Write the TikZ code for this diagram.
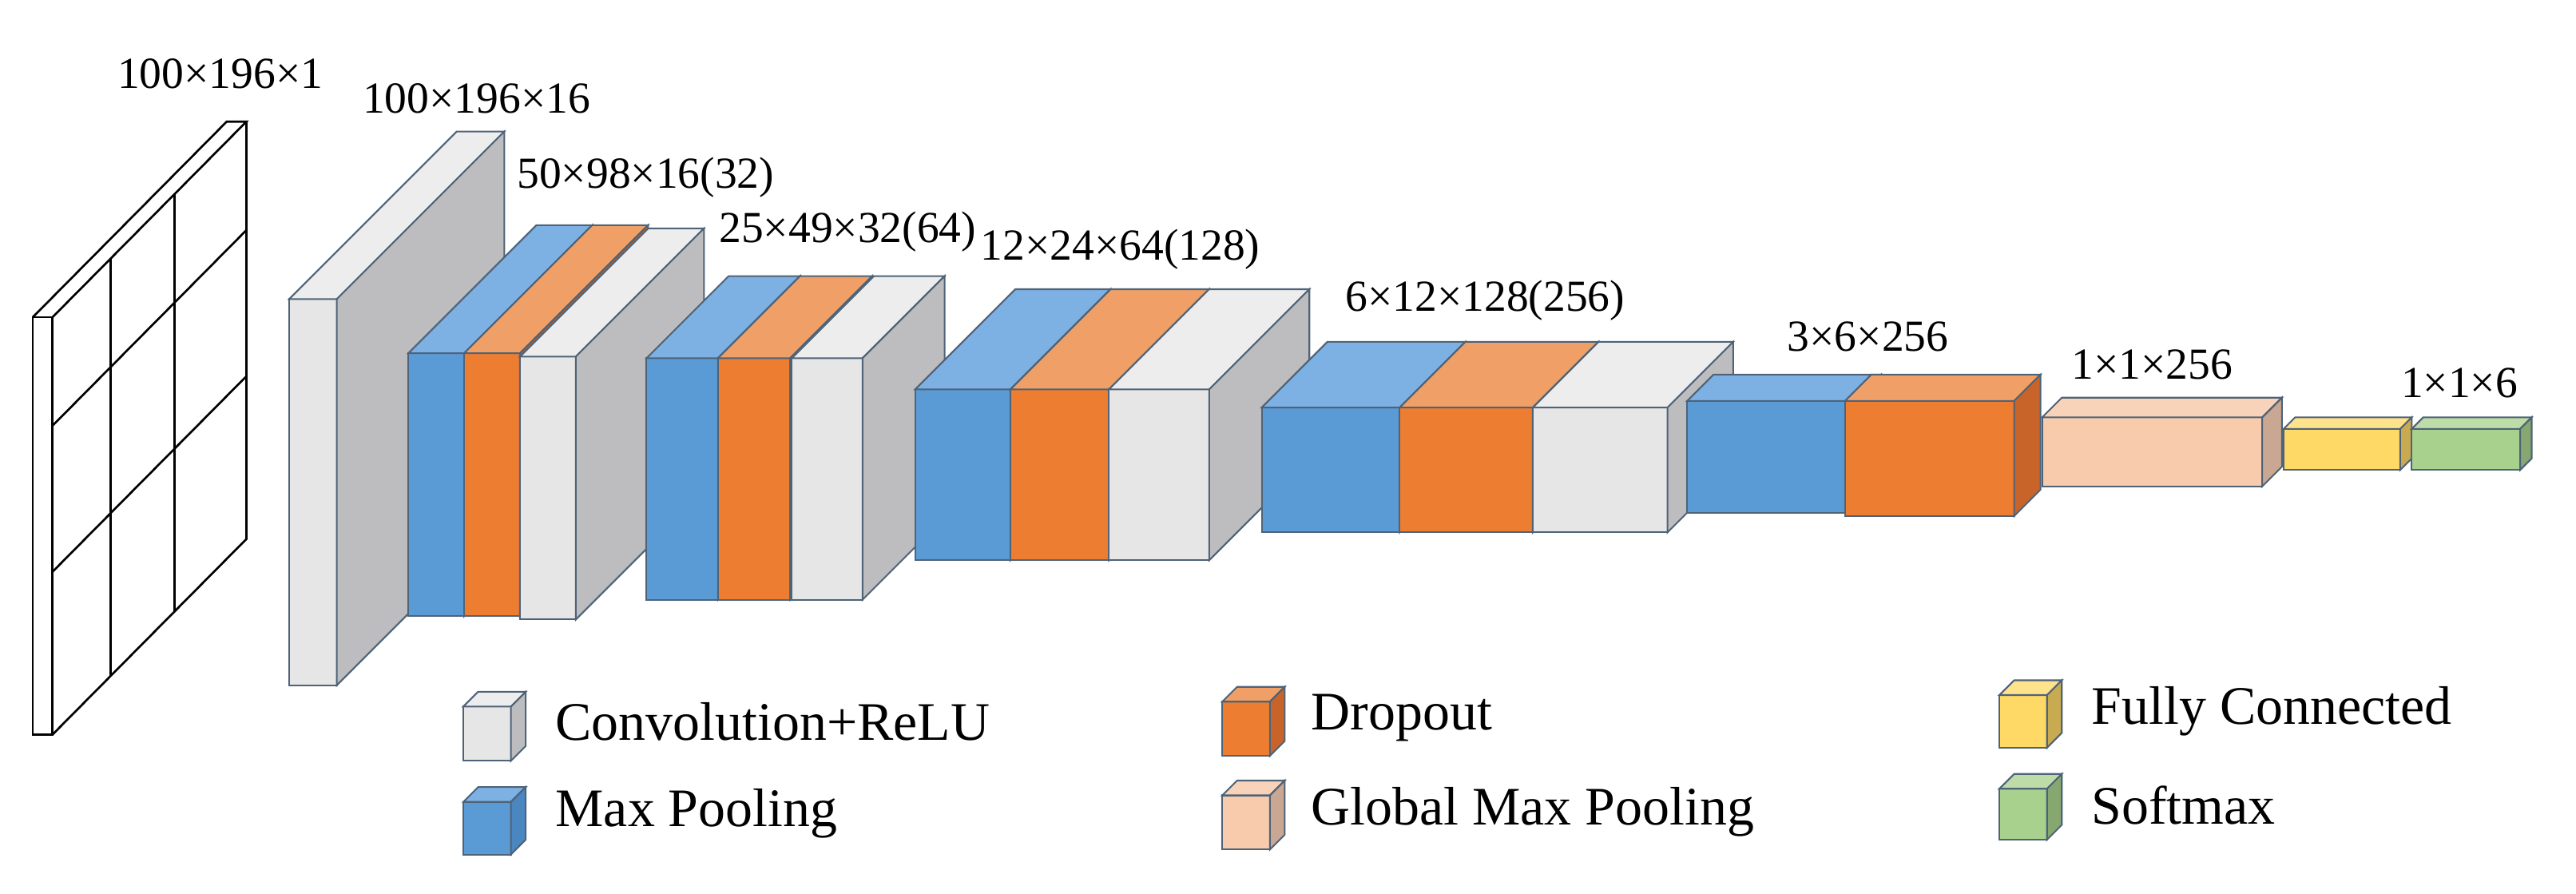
\documentclass[tikz,border=0pt]{standalone}
\usepackage{fontspec}
\setmainfont{Liberation Serif}
\begin{document}
\definecolor{bF}{HTML}{5B9BD5}\definecolor{bT}{HTML}{7DB1E3}\definecolor{bS}{HTML}{4A86C0}
\definecolor{oF}{HTML}{ED7D31}\definecolor{oT}{HTML}{F0A066}\definecolor{oS}{HTML}{C8642A}
\definecolor{gF}{HTML}{E7E6E6}\definecolor{gT}{HTML}{EDEDED}\definecolor{gS}{HTML}{BDBDBF}
\definecolor{pF}{HTML}{F8CBAD}\definecolor{pT}{HTML}{F8D3BA}\definecolor{pS}{HTML}{C9A792}
\definecolor{yF}{HTML}{FFD966}\definecolor{yT}{HTML}{FFE38C}\definecolor{yS}{HTML}{C8AA50}
\definecolor{sF}{HTML}{A9D18E}\definecolor{sT}{HTML}{BDDCA8}\definecolor{sS}{HTML}{86A870}
\definecolor{edge}{HTML}{4E6378}
\newcommand\cuboid[8]{%
 \fill[#6,draw=edge,line width=1pt] (#1,#2) rectangle ++(#3,#4);
 \fill[#7,draw=edge,line width=1pt] (#1,#2)--++(#5,-#5)--++(#3,0)--++(-#5,#5)--cycle;
 \fill[#8,draw=edge,line width=1pt] (#1+#3,#2)--++(#5,-#5)--++(0,#4)--++(-#5,#5)--cycle;}
\begin{tikzpicture}[x=1pt,y=-1pt,lab/.style={font=\fontsize{27}{27}\selectfont,inner sep=0pt},
 leg/.style={font=\fontsize{33}{33}\selectfont,inner sep=0pt,anchor=west}]
\useasboundingbox (0,0) rectangle (1568,543.6);
% input
\begin{scope}[line width=1.3pt]
\draw (20,193) rectangle (32,447);
\draw (20,193)--(138,74)--(150,74)--(32,193);
\draw (32,447)--(150,328)--(150,74);
\foreach \t in {0.3,0.63} \draw (32+118*\t,193-119*\t)--(32+118*\t,447-119*\t);
\foreach \f in {0.26,0.61} \draw (32,193+254*\f)--(150,74+254*\f);
\end{scope}
% conv1
\cuboid{176}{182}{29}{235}{102}{gF}{gT}{gS}
% block1
\cuboid{248.5}{215}{34}{160}{78}{bF}{bT}{bS}
\cuboid{282.5}{215}{34}{160}{78}{oF}{oT}{oS}
\cuboid{316.5}{217}{34}{160}{78}{gF}{gT}{gS}
% block2
\cuboid{393.5}{218}{43.5}{147}{50}{bF}{bT}{bS}
\cuboid{437}{218}{44}{147}{50}{oF}{oT}{oS}
\cuboid{482}{218}{43}{147}{50}{gF}{gT}{gS}
% block3
\cuboid{557}{237}{58}{104}{61}{bF}{bT}{bS}
\cuboid{615}{237}{60}{104}{61}{oF}{oT}{oS}
\cuboid{675}{237}{61}{104}{61}{gF}{gT}{gS}
% block4
\cuboid{768}{248}{84}{76}{40}{bF}{bT}{bS}
\cuboid{852}{248}{81}{76}{40}{oF}{oT}{oS}
\cuboid{933}{248}{82}{76}{40}{gF}{gT}{gS}
% block5
\cuboid{1027}{244}{102}{68}{16}{bF}{bT}{bS}
\cuboid{1123}{244}{103}{70}{16}{oF}{oT}{oS}
% gmp, fc, softmax
\cuboid{1243}{254}{134}{42}{12}{pF}{pT}{pS}
\cuboid{1390}{261}{71}{25}{7}{yF}{yT}{yS}
\cuboid{1468}{261}{66}{25}{7}{sF}{sT}{sS}
% labels
\node[lab] (l1) at (134,45) {100×196×1};
\node[lab] (l2) at (290,60) {100×196×16};
\node[lab] (l3) at (393,108) {50×98×16(32)};
\node[lab] (l4) at (516,141) {25×49×32(64)};
\node[lab] (l5) at (682,152) {12×24×64(128)};
\node[lab] (l6) at (904,183) {6×12×128(256)};
\node[lab] (l7) at (1137,205) {3×6×256};
\node[lab] (l8) at (1310,222) {1×1×256};
\node[lab] (l9) at (1497,233) {1×1×6};
% legend
\cuboid{282}{430}{29}{33}{9}{gF}{gT}{gS}
\cuboid{282}{488}{29}{32}{9}{bF}{bT}{bS}
\cuboid{744}{427}{29}{33}{9}{oF}{oT}{oS}
\cuboid{744}{484}{29}{33}{9}{pF}{pT}{pS}
\cuboid{1217}{423}{29}{32}{9}{yF}{yT}{yS}
\cuboid{1217}{480}{29}{31}{9}{sF}{sT}{sS}
\node[leg] (t1) at (338,439) {Convolution+ReLU};
\node[leg] (t2) at (338,495) {Max Pooling};
\node[leg] (t3) at (798,437) {Dropout};
\node[leg] (t4) at (798,494) {Global Max Pooling};
\node[leg] (t5) at (1273,433) {Fully Connected};
\node[leg] (t6) at (1273,490) {Softmax};
\end{tikzpicture}
\end{document}
